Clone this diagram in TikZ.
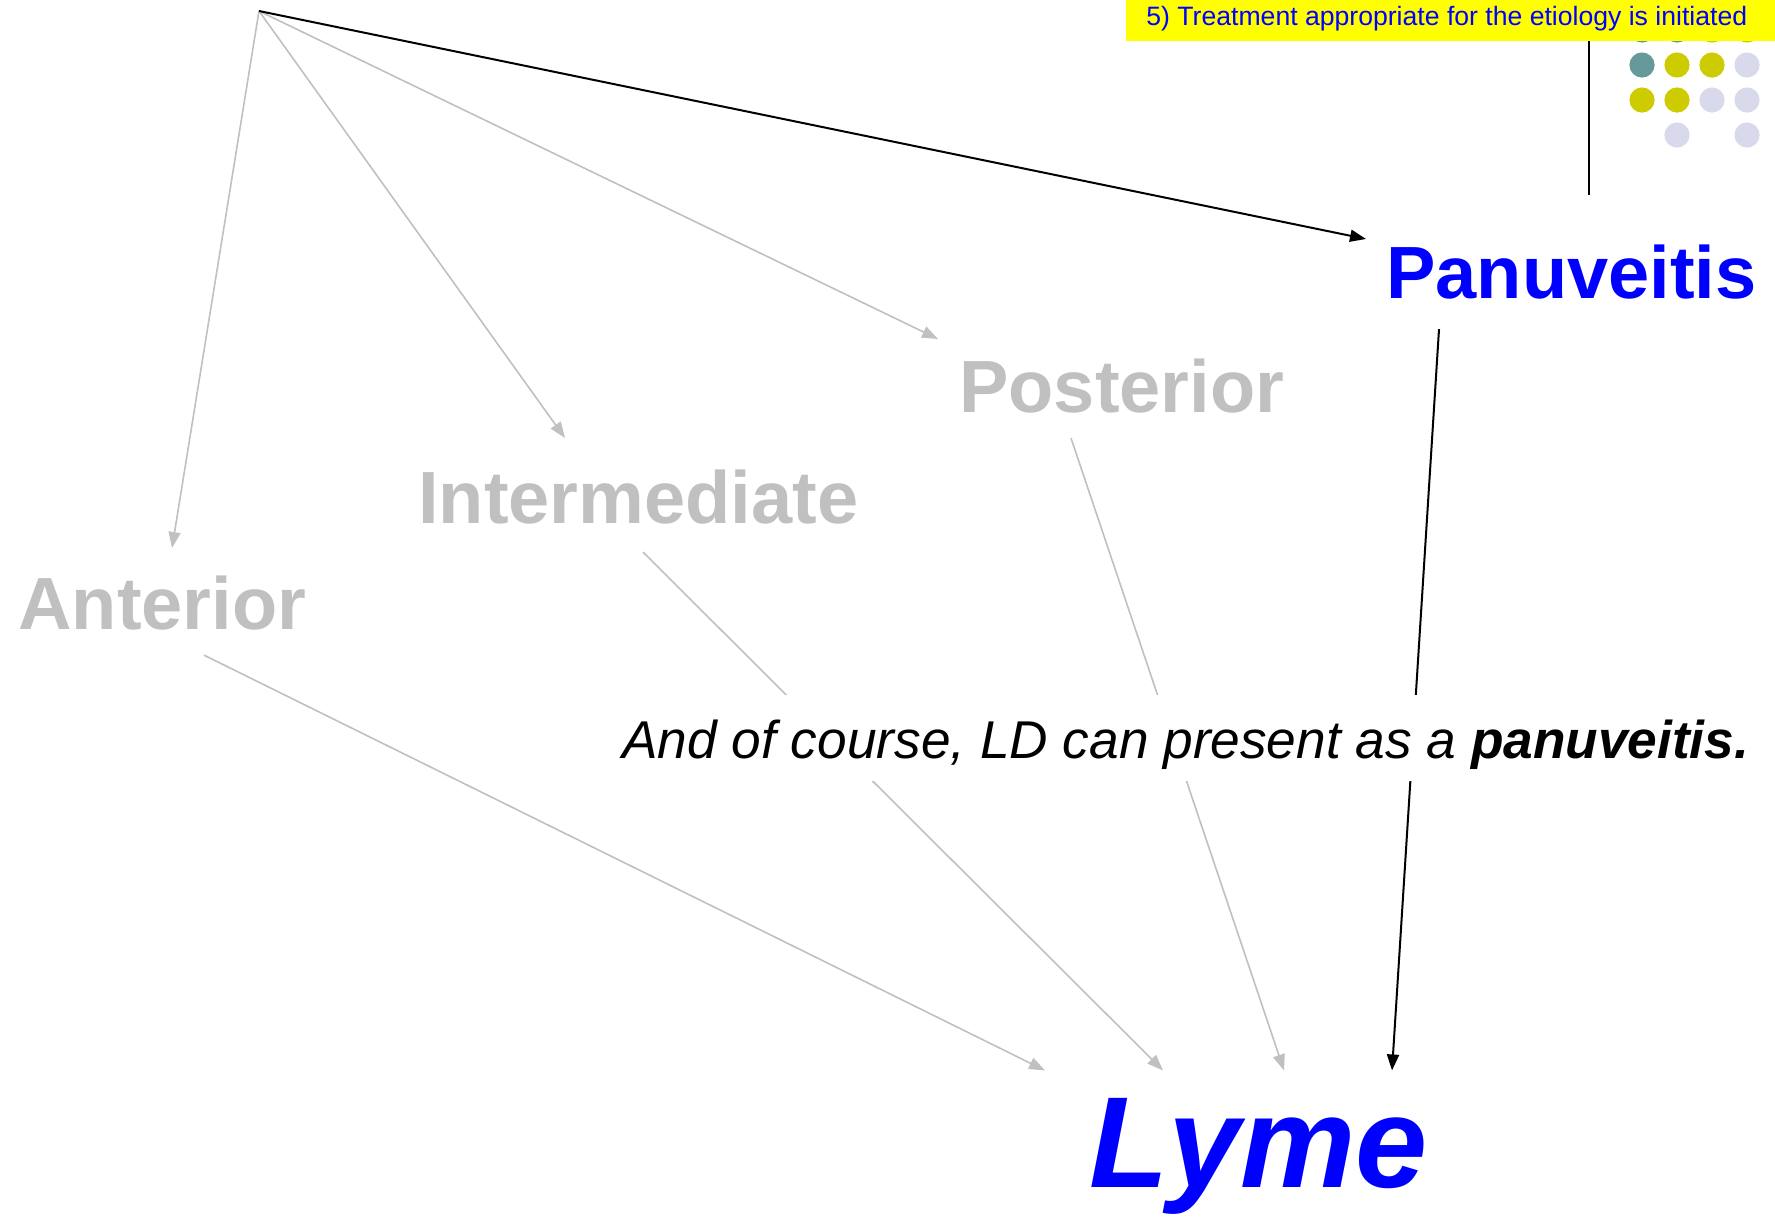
\documentclass[tikz,border=0pt]{standalone}
\usepackage{fontspec}
\setmainfont{Liberation Sans}
\usetikzlibrary{arrows.meta,calc}

\definecolor{fadedgray}{RGB}{192,192,192}
\definecolor{dotteal}{RGB}{102,153,153}
\definecolor{dotolive}{RGB}{204,204,0}
\definecolor{dotlilac}{RGB}{217,217,236}
\definecolor{headyellow}{RGB}{255,255,0}
\definecolor{pureblue}{RGB}{0,0,255}

\tikzset{
  bigword/.style={inner sep=0pt, anchor=base west,
    font=\fontsize{37pt}{44pt}\selectfont\bfseries},
  fadedword/.style={bigword, text=fadedgray},
  blueword/.style={bigword, text=pureblue},
  fadedlink/.style={draw=fadedgray, line width=0.8pt,
    -{Triangle[length=8pt,width=6pt]}},
  mainlink/.style={draw=black, line width=1pt,
    -{Triangle[length=8pt,width=6pt]}},
  dot/.style={radius=6.3pt}
}

\begin{document}
\begin{tikzpicture}[x=0.5pt,y=-0.5pt]
\useasboundingbox (0,0) rectangle (1775,1217);

% decorative dot grid (top row tucked under the header bar)
\fill[dotteal]  (1642,30) circle[dot];
\fill[dotteal]  (1677,30) circle[dot];
\fill[dotolive] (1712,30) circle[dot];
\fill[dotolive] (1747,30) circle[dot];
\fill[dotteal]  (1642,65) circle[dot];
\fill[dotolive] (1677,65) circle[dot];
\fill[dotolive] (1712,65) circle[dot];
\fill[dotlilac] (1747,65) circle[dot];
\fill[dotolive] (1642,100) circle[dot];
\fill[dotolive] (1677,100) circle[dot];
\fill[dotlilac] (1712,100) circle[dot];
\fill[dotlilac] (1747,100) circle[dot];
\fill[dotlilac] (1677,135) circle[dot];
\fill[dotlilac] (1747,135) circle[dot];

% header bar
\fill[headyellow] (1126,0) rectangle (1775,41);
\node[inner sep=0pt, anchor=base west, text=pureblue,
      font=\fontsize{13.3pt}{16pt}\selectfont] (hdr) at (1146,25)
      {5) Treatment appropriate for the etiology is initiated};

% vertical rule below the header
\coordinate (ruletop) at (1589,41);
\coordinate (rulebot) at (1589,195);
\draw[line width=1pt] (ruletop) -- (rulebot);

% source point of the classification arrows
\coordinate (src) at (259,11);

% location categories
\node[fadedword] (ant) at (18,629)  {Anterior};
\node[fadedword] (int) at (418,523) {Intermediate};
\node[fadedword] (pos) at (959,412) {Posterior};
\node[blueword]  (pan) at (1386,298) {Panuveitis};

% diagnosis
\node[inner sep=0pt, anchor=base west, text=pureblue,
      font=\fontsize{64.8pt}{78pt}\selectfont\bfseries\itshape]
      (lyme) at (1089,1187) {Lyme};

% arrows from the source to each category
\draw[fadedlink] (src) -- ($(ant.north west)+(154,-27)$);
\draw[fadedlink] (src) -- ($(int.north west)+(147,-31)$);
\draw[fadedlink] (src) -- ($(pos.north west)+(-21,-19)$);
\draw[mainlink]  (src) -- ($(pan.north west)+(-20,-5)$);

% arrows from each category to the diagnosis
\draw[fadedlink] ($(ant.south west)+(186,25)$) -- ($(lyme.north west)+(-44,-27)$);
\draw[fadedlink] ($(int.south west)+(225,28)$) -- ($(lyme.north west)+(74,-27)$);
\draw[fadedlink] ($(pos.south west)+(112,25)$) -- ($(lyme.north west)+(195,-27)$);
\draw[mainlink]  ($(pan.south west)+(53,30)$)  -- ($(lyme.north west)+(303,-27)$);

% remark laid over the arrows
\node[fill=white, inner xsep=0pt, inner ysep=0pt, anchor=base west,
      text height=31.5pt, text depth=11.5pt,
      font=\fontsize{26.6pt}{32pt}\selectfont\itshape] (note) at (622,758)
      {And of course, LD can present as a \textbf{panuveitis.}};
\end{tikzpicture}
\end{document}
